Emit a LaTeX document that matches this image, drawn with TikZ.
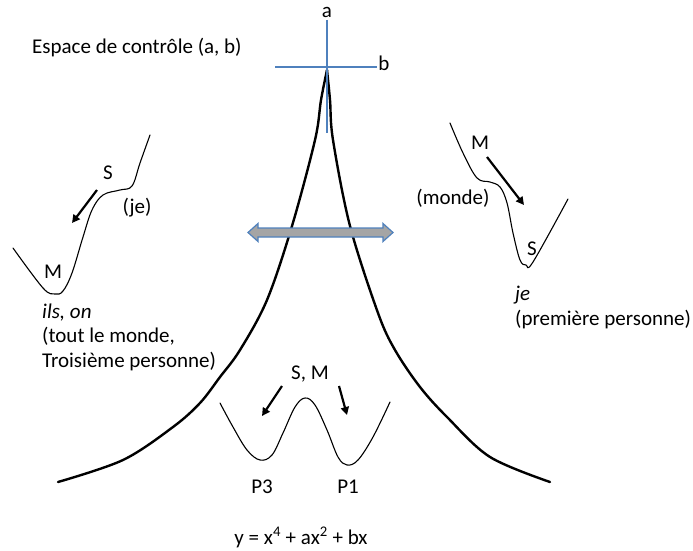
\documentclass[tikz,border=0pt]{standalone}
\usepackage{fontspec}
\setmainfont{Carlito}
\usetikzlibrary{arrows.meta}
\definecolor{ablue}{HTML}{4F81BD}
\definecolor{agray}{HTML}{A5A5A5}
\begin{document}
\begin{tikzpicture}[x=1pt,y=-1pt,
  lbl/.style={inner sep=0pt, font=\fontsize{21}{24.5}\selectfont},
  cusp/.style={line width=2.4pt, line cap=round, line join=round},
  well/.style={line width=1.1pt, line cap=round, line join=round},
  mv/.style={line width=2.2pt, -{Triangle[length=8pt,width=8pt]}},
  axisline/.style={draw=ablue, line width=2pt},
  dblarrow/.style={fill=agray, draw=ablue, line width=1.2pt, line join=miter},
]
\useasboundingbox (0,0) rectangle (693,551);

% cusp (bifurcation set)
\draw[cusp] plot[smooth, tension=0.55] coordinates {(327,70) (321,100) (315,140) (292,226) (267,300) (240,350) (220,377) (200,403) (173,427) (123,460) (58,482)};
\draw[cusp] plot[smooth, tension=0.55] coordinates {(327,70) (330,100) (333,140) (350,226) (378,313) (395,350) (420,387) (447,417) (490,457) (550,482)};

% control axes
\coordinate (atop) at (327,20);
\coordinate (abot) at (327,133);
\coordinate (bl) at (275,67);
\coordinate (br) at (377,67);
\draw[axisline] (atop) -- (abot);
\draw[axisline] (bl) -- (br);
\node[lbl] (la) at (327,12) {a};
\node[lbl] (lb) at (384,63) {b};
\node[lbl, anchor=base west] (title) at (32,53) {Espace de contrôle (a, b)};

% double arrow
\draw[dblarrow] (248,232.5) -- (258,223.5) -- (258,228) -- (383,228) -- (383,223.5) -- (393,232.5)
  -- (383,241.5) -- (383,237) -- (258,237) -- (258,241.5) -- cycle;

% left well
\draw[well] plot[smooth, tension=0.6] coordinates {(150,135) (140,163) (132,186) (120,190) (103,195) (92,210) (83,237) (72,273) (63,291) (55,294) (43,288) (13,248)};
\coordinate (lwa1) at (97,190);
\coordinate (lwa2) at (72,223);
\draw[mv] (lwa1) -- (lwa2);
\node[lbl] (lS) at (108,173) {S};
\node[lbl] (lje) at (137,208) {(je)};
\node[lbl] (lM) at (53,272) {M};
\node[lbl, anchor=base west, align=left] (ltext) at (42,367) {\textit{ils, on}\\(tout le monde,\\Troisième personne)};

% right well
\draw[well] plot[smooth, tension=0.6] coordinates {(450,123) (463,153) (477,178) (490,182) (500,187) (507,203) (513,233) (520,260) (526,265) (533,262) (568,199)};
\coordinate (rwa1) at (487,157);
\coordinate (rwa2) at (524,205);
\draw[mv] (rwa1) -- (rwa2);
\node[lbl] (rM) at (480,143) {M};
\node[lbl] (rmonde) at (453,198) {(monde)};
\node[lbl] (rS) at (532,249) {S};
\node[lbl, anchor=base west, align=left] (rtext) at (515,325) {\textit{je}\\(première personne)};

% double well
\draw[well] plot[smooth, tension=0.6] coordinates {(220,403) (233,427) (247,450) (260,460) (272,455) (283,433) (295,407) (305,398) (315,405) (327,430) (338,457) (347,465) (358,460) (373,437) (390,402)};
\coordinate (dwa1) at (282,386);
\coordinate (dwa2) at (262,416);
\coordinate (dwb1) at (339,386);
\coordinate (dwb2) at (347,415);
\draw[mv] (dwa1) -- (dwa2);
\draw[mv] (dwb1) -- (dwb2);
\node[lbl] (SM) at (310,374) {S, M};
\node[lbl] (P3) at (262,487) {P3};
\node[lbl] (P1) at (348,487) {P1};
\node[lbl, anchor=base] (eq) at (301,544) {y = x\textsuperscript{4} + ax\textsuperscript{2} + bx};
\end{tikzpicture}
\end{document}
